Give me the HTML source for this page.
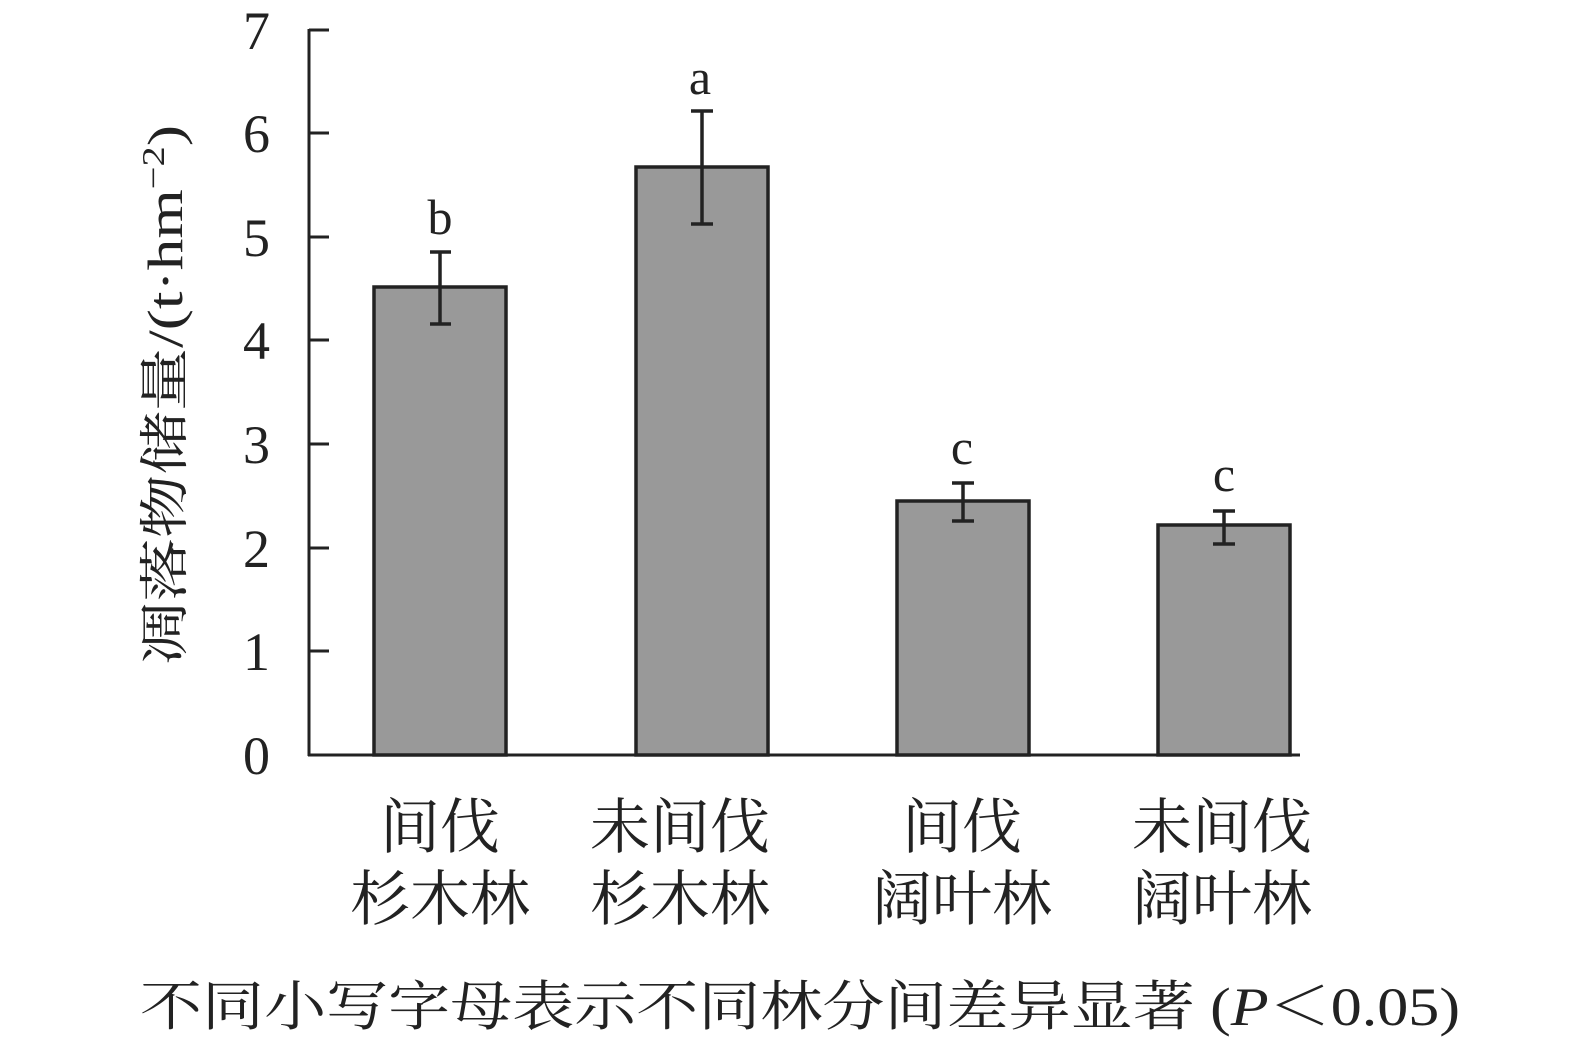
<!DOCTYPE html>
<html><head><meta charset="utf-8"><style>
html,body{margin:0;padding:0;background:#fff;}
svg text{font-family:"Liberation Serif","Noto Serif CJK SC","Noto Sans CJK SC",serif;fill:#222;}
</style></head><body>
<svg width="1575" height="1050" viewBox="0 0 1575 1050" xmlns="http://www.w3.org/2000/svg">
<g stroke="#222" stroke-width="3" fill="none">
<line x1="309" y1="29" x2="309" y2="756"/>
<line x1="308" y1="755" x2="1300" y2="755"/>
<line x1="309" y1="30" x2="329" y2="30"/>
<line x1="309" y1="133" x2="329" y2="133"/>
<line x1="309" y1="237" x2="329" y2="237"/>
<line x1="309" y1="340" x2="329" y2="340"/>
<line x1="309" y1="444" x2="329" y2="444"/>
<line x1="309" y1="548" x2="329" y2="548"/>
<line x1="309" y1="651" x2="329" y2="651"/>
</g>
<g font-size="54" text-anchor="end">
<text x="270" y="774">0</text><text x="270" y="670">1</text><text x="270" y="567">2</text>
<text x="270" y="463">3</text><text x="270" y="359">4</text><text x="270" y="256">5</text>
<text x="270" y="152">6</text><text x="270" y="49">7</text>
</g>
<g fill="#999" stroke="#222" stroke-width="3.5">
<rect x="374" y="287" width="132" height="468"/>
<rect x="636" y="167" width="132" height="588"/>
<rect x="897" y="501" width="132" height="254"/>
<rect x="1158" y="525" width="132" height="230"/>
</g>
<g stroke="#222" stroke-width="3.5">
<line x1="440" y1="252" x2="440" y2="324"/><line x1="430" y1="252" x2="451" y2="252"/><line x1="430" y1="324" x2="451" y2="324"/>
<line x1="702" y1="111" x2="702" y2="224"/><line x1="691" y1="111" x2="713" y2="111"/><line x1="691" y1="224" x2="713" y2="224"/>
<line x1="963" y1="483" x2="963" y2="521"/><line x1="952" y1="483" x2="974" y2="483"/><line x1="952" y1="521" x2="974" y2="521"/>
<line x1="1224" y1="511" x2="1224" y2="544"/><line x1="1213" y1="511" x2="1235" y2="511"/><line x1="1213" y1="544" x2="1235" y2="544"/>
</g>
<g font-size="50" text-anchor="middle">
<text x="440" y="234">b</text><text x="700" y="94">a</text>
<text x="962" y="464">c</text><text x="1224" y="491">c</text>
</g>
<text transform="translate(182,395) rotate(-90)" font-size="50" text-anchor="middle" textLength="540" lengthAdjust="spacingAndGlyphs">凋落物储量/(t·hm<tspan dy="-18" font-size="32">−2</tspan><tspan dy="18">)</tspan></text>
<g font-size="60" text-anchor="middle">
<text x="440" y="848">间伐</text><text x="440" y="920">杉木林</text>
<text x="680" y="848">未间伐</text><text x="680" y="920">杉木林</text>
<text x="962" y="848">间伐</text><text x="962" y="920">阔叶林</text>
<text x="1222" y="848">未间伐</text><text x="1222" y="920">阔叶林</text>
</g>
<text x="140" y="1025" font-size="54" textLength="1320" lengthAdjust="spacingAndGlyphs">不同小写字母表示不同林分间差异显著 (<tspan font-style="italic">P</tspan>＜0.05)</text>
</svg>
</body></html>
